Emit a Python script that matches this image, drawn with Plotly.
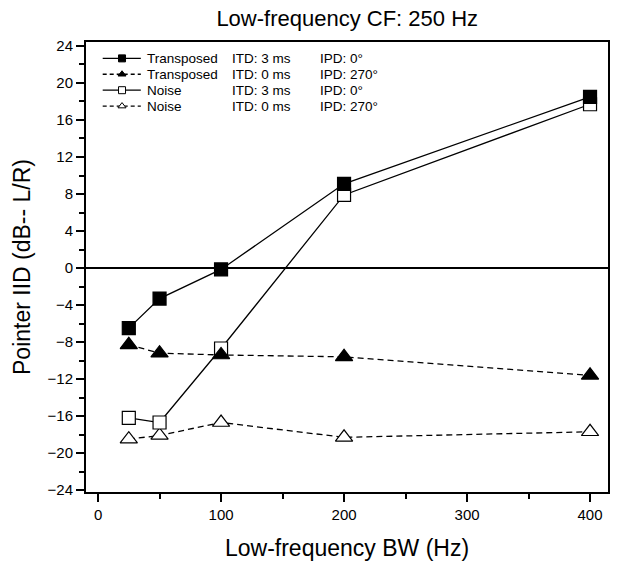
import plotly.graph_objects as go

# Bandwidths (Hz) and pointer IID values (dB, L/R) for each condition
bw = [25, 50, 100, 200, 400]
trans_itd3 = [-6.5, -3.3, -0.15, 9.1, 18.5]
trans_itd0 = [-8.3, -9.2, -9.4, -9.6, -11.6]
noise_itd3 = [-16.2, -16.7, -8.7, 7.9, 17.7]
noise_itd0 = [-18.5, -18.1, -16.7, -18.3, -17.7]

legend_rows = [
    ("Transposed", "ITD: 3 ms", "IPD: 0°"),
    ("Transposed", "ITD: 0 ms", "IPD: 270°"),
    ("Noise", "ITD: 3 ms", "IPD: 0°"),
    ("Noise", "ITD: 0 ms", "IPD: 270°"),
]

FONT = "Liberation Sans, Arial, sans-serif"
DASH = "6px,4px"

series = [
    # (values, symbol, fill, dash)
    (noise_itd0, "triangle-up", "white", DASH),
    (noise_itd3, "square", "white", "solid"),
    (trans_itd0, "triangle-up", "black", DASH),
    (trans_itd3, "square", "black", "solid"),
]

fig = go.Figure()
for vals, sym, fill, dash in series:
    size = 13 if sym == "square" else 15
    fig.add_trace(go.Scatter(
        x=bw, y=vals, mode="lines+markers",
        line=dict(color="black", width=1.3, dash=dash),
        marker=dict(symbol=sym, size=size, color=fill,
                    line=dict(color="black", width=1.2)),
        showlegend=False, hoverinfo="skip",
    ))

# Legend drawn on an overlay axis spanning the plot area (0..1 both ways)
row_y = [0.9636, 0.9283, 0.8929, 0.8576]
leg_styles = [
    ("square", "black", "solid"),
    ("triangle-up", "black", DASH),
    ("square", "white", "solid"),
    ("triangle-up", "white", DASH),
]
for yy, (sym, fill, dash) in zip(row_y, leg_styles):
    fig.add_trace(go.Scatter(
        x=[0.032, 0.105], y=[yy, yy], mode="lines",
        line=dict(color="black", width=1.3,
                  dash="4px,3px" if dash != "solid" else "solid"),
        xaxis="x2", yaxis="y2", showlegend=False, hoverinfo="skip",
    ))
    fig.add_trace(go.Scatter(
        x=[0.069], y=[yy], mode="markers",
        marker=dict(symbol=sym, size=7, color=fill,
                    line=dict(color="black", width=1)),
        xaxis="x2", yaxis="y2", showlegend=False, hoverinfo="skip",
    ))

annotations = []
for yy, (a, b, c) in zip(row_y, legend_rows):
    for xx, txt in zip([0.118, 0.281, 0.451], [a, b, c]):
        annotations.append(dict(
            x=xx, y=yy, xref="x2", yref="y2", text=txt, showarrow=False,
            xanchor="left", yanchor="middle", xshift=-2, borderpad=0,
            font=dict(family=FONT, size=13.5, color="black"),
        ))

fig.update_layout(
    width=643, height=569,
    margin=dict(l=86, r=35, t=42, b=74),
    paper_bgcolor="white", plot_bgcolor="white",
    font=dict(family=FONT, color="black"),
    title=dict(text="Low-frequency CF: 250 Hz", x=0.54, xanchor="center",
               y=0.968, yanchor="middle",
               font=dict(family=FONT, size=22, color="black")),
    xaxis=dict(
        range=[-9.8, 414.6], tickvals=[0, 100, 200, 300, 400],
        ticks="outside", ticklen=8, tickwidth=1.5, tickcolor="black",
        minor=dict(tickvals=[50, 150, 250, 350], ticks="outside",
                   ticklen=5, tickwidth=1.5, tickcolor="black"),
        showline=True, linewidth=2, linecolor="black", mirror=True,
        showgrid=False, zeroline=False,
        tickfont=dict(family=FONT, size=15, color="black"),
        title=dict(text="Low-frequency BW (Hz)", standoff=18,
                   font=dict(family=FONT, size=23, color="black")),
    ),
    yaxis=dict(
        range=[-24.21, 24.43], tickvals=list(range(-24, 25, 4)),
        ticks="outside", ticklen=8, tickwidth=1.5, tickcolor="black",
        minor=dict(tickvals=list(range(-22, 24, 4)), ticks="outside",
                   ticklen=5, tickwidth=1.5, tickcolor="black"),
        showline=True, linewidth=2, linecolor="black", mirror=True,
        showgrid=False, zeroline=True, zerolinecolor="black",
        zerolinewidth=1.6,
        tickfont=dict(family=FONT, size=15, color="black"),
        title=dict(text="Pointer IID (dB-- L/R)", standoff=10,
                   font=dict(family=FONT, size=23, color="black")),
    ),
    xaxis2=dict(range=[0, 1], overlaying="x", visible=False, fixedrange=True),
    yaxis2=dict(range=[0, 1], overlaying="y", visible=False, fixedrange=True),
    annotations=annotations,
)

fig.write_html("out.html")
